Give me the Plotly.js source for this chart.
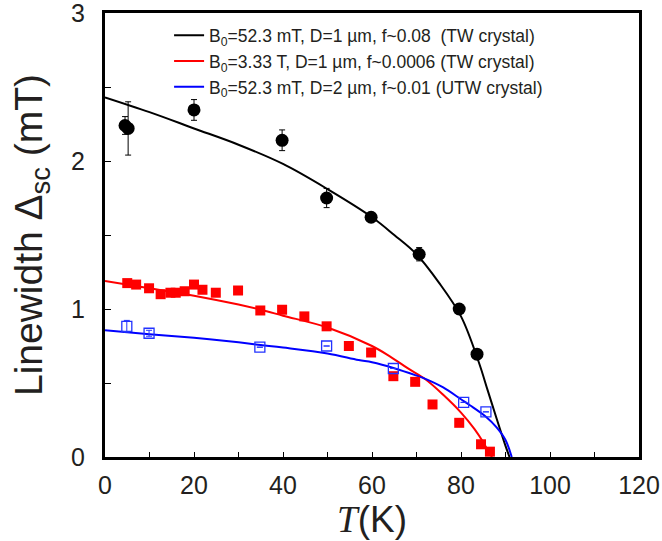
<!DOCTYPE html>
<html>
<head>
<meta charset="utf-8">
<script src="https://cdn.plot.ly/plotly-3.0.1.min.js"></script>
<style>html,body{margin:0;padding:0;background:#fff;}#chart{width:662px;height:541px;}</style>
</head>
<body>
<div id="chart"></div>
<script>
// Measured data: TW crystal, B0 = 52.3 mT (black circles)
const blackT   = [4.5, 5.2, 20.0, 39.8, 49.8, 59.8, 70.6, 79.6, 83.6];
const blackY   = [2.24, 2.22, 2.345, 2.14, 1.75, 1.62, 1.37, 1.00, 0.695];
const blackErr = [0.06, 0.18, 0.07, 0.07, 0.065, 0.02, 0.045, 0, 0];

// TW crystal, B0 = 3.33 T (red squares)
const redT = [5.0, 7.0, 9.9, 12.5, 14.7, 15.9, 17.9, 20.0, 21.9, 24.9, 29.9, 34.9, 39.8, 44.8, 49.8, 54.8, 59.8, 64.8, 69.7, 73.6, 79.6, 84.5, 86.5];
const redY = [1.175, 1.165, 1.14, 1.10, 1.11, 1.11, 1.12, 1.165, 1.13, 1.11, 1.125, 0.99, 0.995, 0.95, 0.883, 0.75, 0.706, 0.546, 0.508, 0.355, 0.231, 0.086, 0.036];

// UTW crystal, B0 = 52.3 mT (blue open squares)
const blueT   = [4.9, 9.9, 34.8, 49.8, 64.8, 80.6, 85.6];
const blueY   = [0.883, 0.836, 0.742, 0.75, 0.598, 0.369, 0.305];
const blueErr = [0.04, 0.02, 0, 0, 0, 0, 0];

// Fit curves
const fitBlackT = [0, 10, 20, 30, 40, 50, 60, 65, 70, 75, 80, 84, 86, 88, 90, 90.9];
const fitBlackY = [2.43, 2.33, 2.22, 2.11, 1.98, 1.81, 1.62, 1.50, 1.37, 1.18, 0.95, 0.64, 0.45, 0.26, 0.075, 0.0];

const fitRedT = [0, 10, 20, 30, 35, 40, 50, 60, 64, 68, 72, 76, 80, 83, 85, 86.5, 87];
const fitRedY = [1.19, 1.14, 1.09, 1.03, 0.995, 0.955, 0.875, 0.75, 0.68, 0.60, 0.525, 0.42, 0.30, 0.19, 0.10, 0.02, 0.0];

const fitBlueT = [0, 10, 20, 30, 35, 40, 50, 57, 60, 65, 70, 72, 76, 80, 82, 85.6, 88, 90, 91.4];
const fitBlueY = [0.857, 0.83, 0.805, 0.775, 0.757, 0.74, 0.70, 0.655, 0.64, 0.60, 0.55, 0.528, 0.47, 0.39, 0.35, 0.272, 0.20, 0.115, 0.0];

const legendNames = [
  'B<sub>0</sub>=52.3 mT, D=1 \u00b5m, f~0.08  (TW crystal)',
  'B<sub>0</sub>=3.33 T, D=1 \u00b5m, f~0.0006 (TW crystal)',
  'B<sub>0</sub>=52.3 mT, D=2 \u00b5m, f~0.01 (UTW crystal)'
];

const xTicks = [0, 20, 40, 60, 80, 100, 120];
const yTicks = [0, 1, 2, 3];

const traces = [
  {x: fitBlackT, y: fitBlackY, mode: 'lines', line: {color: '#000000', width: 2, shape: 'spline'}, name: legendNames[0], hoverinfo: 'skip'},
  {x: fitRedT, y: fitRedY, mode: 'lines', line: {color: '#ff0000', width: 2, shape: 'spline'}, name: legendNames[1], hoverinfo: 'skip'},
  {x: fitBlueT, y: fitBlueY, mode: 'lines', line: {color: '#0000ff', width: 2, shape: 'spline'}, name: legendNames[2], hoverinfo: 'skip'},
  {x: redT, y: redY, mode: 'markers', showlegend: false,
   marker: {symbol: 'square', size: 10, color: '#ff0000', line: {width: 0}}},
  {x: blueT, y: blueY, mode: 'markers', showlegend: false,
   error_y: {type: 'data', array: blueErr, color: '#2233ff', thickness: 1, width: 3},
   marker: {symbol: 'square-open', size: 10, color: '#2233ff', line: {width: 1.3}}},
  {x: blackT, y: blackY, mode: 'markers', showlegend: false,
   error_y: {type: 'data', array: blackErr, color: '#000000', thickness: 1, width: 3},
   marker: {symbol: 'circle', size: 13, color: '#000000'}}
];

const layout = {
  width: 662, height: 541,
  margin: {l: 105, r: 23, t: 13, b: 84},
  paper_bgcolor: '#ffffff', plot_bgcolor: '#ffffff',
  font: {family: 'Liberation Sans, Arial, sans-serif', color: '#231f20'},
  showlegend: true,
  legend: {x: 0.12, y: 0.99, xanchor: 'left', yanchor: 'top', bgcolor: 'rgba(0,0,0,0)',
           font: {size: 17.5, color: '#231f20'}, borderwidth: 0},
  xaxis: {
    range: [0, 120], tickvals: xTicks, ticktext: xTicks.map(String),
    ticks: 'inside', ticklen: 5, tickwidth: 1, tickcolor: '#000',
    minor: {dtick: 10, tick0: 0, ticks: 'inside', ticklen: 5, tickwidth: 1, tickcolor: '#000'},
    showline: true, linewidth: 3, linecolor: '#000', mirror: true,
    showgrid: false, zeroline: false, ticklabeloverflow: 'allow',
    tickfont: {size: 25}, ticklabelstandoff: 4,
    title: {text: '<span style="font-family:Liberation Serif"><i>T</i></span>(K)', font: {size: 37}, standoff: 3}
  },
  yaxis: {
    range: [0, 3], tickvals: yTicks, ticktext: yTicks.map(String),
    ticks: 'inside', ticklen: 6, tickwidth: 1, tickcolor: '#000',
    minor: {dtick: 0.5, tick0: 0, ticks: 'inside', ticklen: 6, tickwidth: 1, tickcolor: '#000'},
    showline: true, linewidth: 3, linecolor: '#000', mirror: true,
    showgrid: false, zeroline: false, ticklabeloverflow: 'allow',
    tickfont: {size: 25}, ticklabelstandoff: 12,
    title: {text: 'Linewidth \u0394<sub>sc</sub> (mT)', font: {size: 39}, standoff: 17}
  }
};

Plotly.newPlot('chart', traces, layout, {displayModeBar: false, staticPlot: true});
</script>
</body>
</html>
